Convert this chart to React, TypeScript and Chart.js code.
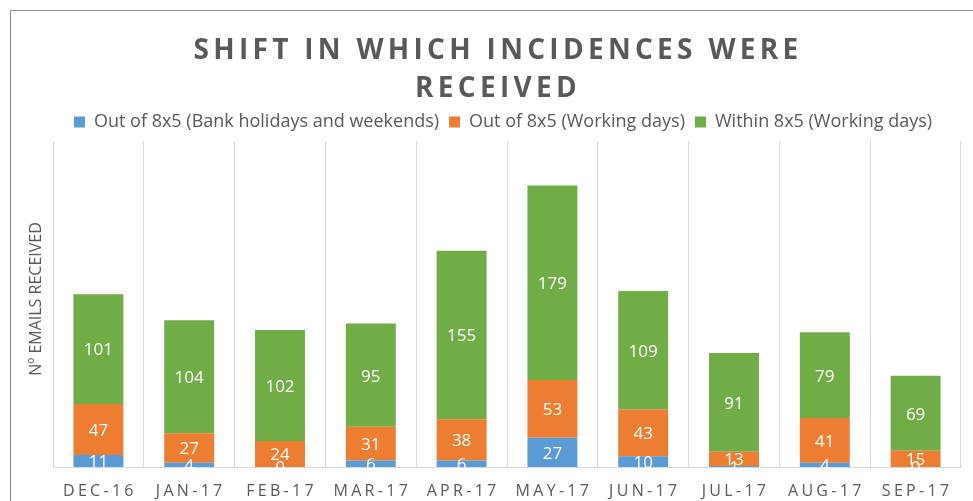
import React, { useEffect, useRef } from "react";
import { Chart, registerables } from "chart.js";

Chart.register(...registerables);

const categories = ["DEC-16", "JAN-17", "FEB-17", "MAR-17", "APR-17", "MAY-17", "JUN-17", "JUL-17", "AUG-17", "SEP-17"];
const bankHolidays = [11, 4, 0, 6, 6, 27, 10, 1, 4, 0];
const outWorking = [47, 27, 24, 31, 38, 53, 43, 13, 41, 15];
const withinWorking = [101, 104, 102, 95, 155, 179, 109, 91, 79, 69];
const titleLines = ["SHIFT IN WHICH INCIDENCES WERE", "RECEIVED"];
const yTitle = "Nº EMAILS RECEIVED";

const FONT = '"Open Sans", sans-serif';
const GRAY = "#595959";

const customPlugin = {
  id: "custom",
  afterDatasetsDraw(chart: any) {
    const ctx = chart.ctx;
    ctx.save();
    ctx.font = `17px ${FONT}`;
    ctx.fillStyle = "#ffffff";
    ctx.textAlign = "center";
    ctx.textBaseline = "middle";
    chart.data.datasets.forEach((ds: any, i: number) => {
      const meta = chart.getDatasetMeta(i);
      meta.data.forEach((bar: any, j: number) => {
        const v = ds.data[j];
        const y = (bar.y + bar.base) / 2;
        ctx.fillText(String(v), bar.x, y + 1.5);
      });
    });
    ctx.restore();
  },
  afterDraw(chart: any) {
    const ctx = chart.ctx;
    ctx.save();
    // frame
    ctx.strokeStyle = "#8c8c8c";
    ctx.lineWidth = 1;
    ctx.beginPath();
    ctx.moveTo(10.5, 501);
    ctx.lineTo(10.5, 10.5);
    ctx.lineTo(973, 10.5);
    ctx.stroke();
    // title
    ctx.fillStyle = GRAY;
    ctx.textAlign = "center";
    ctx.textBaseline = "middle";
    ctx.font = `bold 28px ${FONT}`;
    (ctx as any).letterSpacing = "4.3px";
    ctx.fillText(titleLines[0], 498, 51);
    ctx.fillText(titleLines[1], 498, 89);
    // y title
    (ctx as any).letterSpacing = "0px";
    ctx.font = `16px ${FONT}`;
    ctx.save();
    ctx.translate(36, 299);
    ctx.rotate(-Math.PI / 2);
    ctx.fillText(yTitle, 0, 0);
    ctx.restore();
    // x labels
    const xs = chart.scales.x;
    ctx.font = `16px ${FONT}`;
    (ctx as any).letterSpacing = "3.3px";
    categories.forEach((c, i) => {
      const x = xs.getPixelForValue(i);
      ctx.fillText(c, x + 1.5, chart.chartArea.bottom + 24);
    });
    ctx.restore();
  },
};

export default function App() {
  const ref = useRef<HTMLCanvasElement>(null);
  useEffect(() => {
    const chart = new Chart(ref.current!, {
      type: "bar",
      data: {
        labels: categories,
        datasets: [
          { label: "Out of 8x5 (Bank holidays and weekends)", data: bankHolidays, backgroundColor: "#5B9BD5" },
          { label: "Out of 8x5 (Working days)", data: outWorking, backgroundColor: "#ED7D31" },
          { label: "Within 8x5 (Working days)", data: withinWorking, backgroundColor: "#70AD47" },
        ],
      },
      options: {
        animation: false,
        responsive: false,
        maintainAspectRatio: false,
        layout: { padding: { top: 103, left: 45, right: 12, bottom: 22 } },
        datasets: { bar: { categoryPercentage: 1, barPercentage: 0.55 } },
        plugins: {
          title: { display: false },
          tooltip: { enabled: false },
          legend: {
            position: "top",
            labels: {
              boxWidth: 11,
              boxHeight: 11,
              padding: 10,
              color: GRAY,
              font: { family: FONT, size: 18 },
            },
          },
        },
        scales: {
          x: {
            stacked: true,
            grid: { display: true, color: "#d9d9d9", drawTicks: false, offset: true },
            border: { display: true, color: "#d9d9d9" },
            ticks: { color: "rgba(0,0,0,0)", font: { family: FONT, size: 10 }, padding: 0 },
          },
          y: {
            stacked: true,
            min: 0,
            max: 300,
            grid: { display: false, drawTicks: false },
            border: { display: false },
            ticks: { display: false },
            afterFit: (scale: any) => {
              scale.width = 8;
            },
          },
        },
      },
      plugins: [customPlugin],
    });
    return () => chart.destroy();
  }, []);
  return (
    <div style={{ position: "fixed", left: 0, top: 0, width: 973, height: 501, background: "#fff" }}>
      <canvas ref={ref} width={973} height={501} style={{ width: 973, height: 501 }} />
    </div>
  );
}
